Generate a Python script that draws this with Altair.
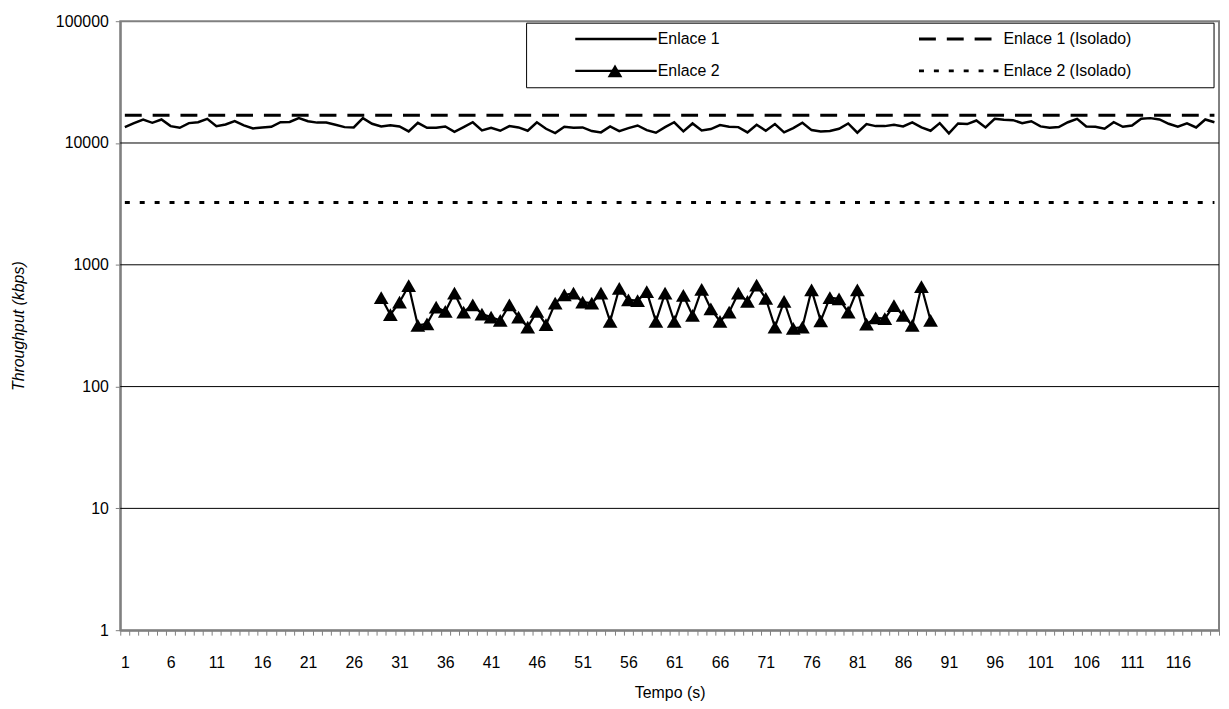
import altair as alt
import pandas as pd

# ---------------- data ----------------
tempo = list(range(1, 121))
enlace1 = [
    13500, 14560, 15600, 14650, 15600, 13760, 13340, 14560, 14800, 15800,
    13760, 14200, 15100, 13930, 13170, 13420, 13590, 14800, 14900, 16000,
    15100, 14700, 14700, 14100, 13500, 13420, 16000, 14380, 13680, 14000,
    13680, 12450, 14650, 13340, 13340, 13680, 12370, 13500, 14800, 12690,
    13340, 12600, 13760, 13420, 12600, 14800, 13090, 12070, 13590, 13340,
    13420, 12530, 12220, 13680, 12530, 13250, 13930, 12760, 12140, 13500,
    14800, 12450, 14470, 12690, 13010, 14020, 13590, 13500, 12220, 14110,
    12600, 14290, 12220, 13250, 14650, 12760, 12450, 12530, 13090, 14470,
    12140, 14290, 13760, 13760, 14110, 13680, 14740, 13420, 12600, 14560,
    11990, 14470, 14290, 15300, 13420, 15800, 15500, 15400, 14560, 15100,
    13680, 13340, 13510, 14800, 15800, 13680, 13590, 13090, 14800, 13590,
    13930, 15800, 16000, 15600, 14380, 13590, 14470, 13420, 15600, 14800,
]
tempo2 = list(range(29, 90))
enlace2 = [
    538, 389, 493, 674, 318, 328, 449, 414, 584, 408,
    469, 394, 372, 349, 469, 372, 308, 414, 322, 484,
    566, 584, 493, 484, 584, 343, 641, 515, 508, 602,
    343, 584, 343, 560, 384, 629, 435, 343, 408, 584,
    500, 680, 530, 308, 500, 301, 308, 622, 347, 538,
    525, 408, 622, 325, 366, 362, 463, 384, 318, 661,
    349,
]
isolado_names = ["Enlace 1 (Isolado)", "Enlace 2 (Isolado)"]
isolado_values = [16900, 3240]
x_labels = list(range(1, 117, 5))
y_ticks = [1, 10, 100, 1000, 10000, 100000]
grid_values = [10, 100, 1000, 10000]

assert len(enlace1) == len(tempo)
assert len(enlace2) == len(tempo2)

df1 = pd.DataFrame({"t": tempo, "v": enlace1})
df2 = pd.DataFrame({"t": tempo2, "v": enlace2})
dfi = pd.DataFrame({
    "serie": isolado_names,
    "v": isolado_values,
    "t": [tempo[0]] * 2,
    "t1": [tempo[-1]] * 2,
})
dfg = pd.DataFrame({"v": grid_values})
one = pd.DataFrame({"a": [0]})

FONT = "Liberation Sans"
FS = 16
GRAY = "#808080"
TRI = 220

x_scale = alt.Scale(domain=[0.5, 120.5], nice=False, zero=False)
y_scale = alt.Scale(type="log", domain=[1, 100000], nice=False)

y_axis = alt.Axis(
    values=y_ticks, format="d", grid=False,
    tickSize=5, tickColor=GRAY, domainColor=GRAY, domainWidth=2,
    labelFont=FONT, labelFontSize=FS, labelColor="black", labelPadding=7,
    title="Throughput (kbps)", titleFont=FONT, titleFontSize=FS,
    titleFontStyle="italic", titleFontWeight="normal", titleColor="black",
    titlePadding=29,
)

tick_positions = [t - 0.5 for t in tempo] + [tempo[-1] + 0.5]
x_tick_axis = alt.Axis(
    orient="bottom", values=tick_positions, labels=False, title=None,
    tickSize=5, tickColor=GRAY, domainColor=GRAY, domainWidth=2, grid=False,
)
x_label_axis = alt.Axis(
    orient="bottom", values=x_labels, format="d", ticks=False, domain=False,
    grid=False, labelOverlap=False, labelFont=FONT, labelFontSize=FS,
    labelColor="black", labelPadding=25,
    title="Tempo (s)", titleFont=FONT, titleFontSize=FS,
    titleFontWeight="normal", titleColor="black", titlePadding=14,
)

grid = alt.Chart(dfg).mark_rule(color="black", strokeWidth=1).encode(
    y=alt.Y("v:Q", scale=y_scale, axis=y_axis)
)

iso = alt.Chart(dfi).mark_rule(color="black", strokeWidth=3).encode(
    x=alt.X("t:Q", scale=x_scale, axis=x_label_axis),
    x2="t1:Q",
    y=alt.Y("v:Q", scale=y_scale, axis=y_axis),
    strokeDash=alt.StrokeDash(
        "serie:N",
        scale=alt.Scale(domain=isolado_names, range=[[17, 11], [5, 10]]),
        legend=None,
    ),
)

line1 = alt.Chart(df1).mark_line(color="black", strokeWidth=2.5).encode(
    x=alt.X("t:Q", scale=x_scale, axis=x_tick_axis),
    y=alt.Y("v:Q", scale=y_scale, axis=y_axis),
)

line2 = alt.Chart(df2).mark_line(
    color="black", strokeWidth=2.2,
    point=alt.OverlayMarkDef(shape="triangle-up", size=TRI, filled=True,
                             color="black", opacity=1),
).encode(
    x=alt.X("t:Q", scale=x_scale, axis=None),
    y=alt.Y("v:Q", scale=y_scale, axis=y_axis),
)

# ---------------- legend (drawn by hand) ----------------
LX0, LX1, LY0, LY1 = 409, 1101, 2, 67
ROW1, ROW2 = 18, 50
box = alt.Chart(one).mark_rect(fill="white", stroke="black", strokeWidth=1).encode(
    x=alt.value(LX0), x2=alt.value(LX1), y=alt.value(LY0), y2=alt.value(LY1)
)

def leg_line(x0, x1, y, dash=None, width=2.5):
    kw = dict(color="black", strokeWidth=width)
    if dash:
        kw["strokeDash"] = dash
    return alt.Chart(one).mark_rule(**kw).encode(
        x=alt.value(x0), x2=alt.value(x1), y=alt.value(y)
    )

def leg_text(x, y, txt):
    return alt.Chart(one).mark_text(
        text=txt, align="left", baseline="middle", font=FONT, fontSize=FS,
        color="black",
    ).encode(x=alt.value(x), y=alt.value(y))

legend_layers = [
    box,
    leg_line(458, 540, ROW1),
    leg_text(541, ROW1, "Enlace 1"),
    leg_line(458, 540, ROW2, width=2.2),
    alt.Chart(one).mark_point(shape="triangle-up", size=TRI, filled=True,
                              color="black", opacity=1).encode(
        x=alt.value(498), y=alt.value(ROW2)),
    leg_text(541, ROW2, "Enlace 2"),
    leg_line(804, 884, ROW1, dash=[17, 11], width=3),
    leg_text(889, ROW1, "Enlace 1 (Isolado)"),
    leg_line(804, 884, ROW2, dash=[5, 10], width=3),
    leg_text(889, ROW2, "Enlace 2 (Isolado)"),
]

chart = alt.layer(grid, iso, line1, line2, *legend_layers).resolve_axis(
    x="independent"
).properties(
    width=1106, height=613,
    autosize=alt.AutoSizeParams(type="none"),
    padding={"left": 113, "top": 11, "right": 2, "bottom": 69},
    background="white",
).configure_view(stroke=GRAY, strokeWidth=2)

chart.save("out.html", embed_options={"renderer": "svg", "actions": False})
